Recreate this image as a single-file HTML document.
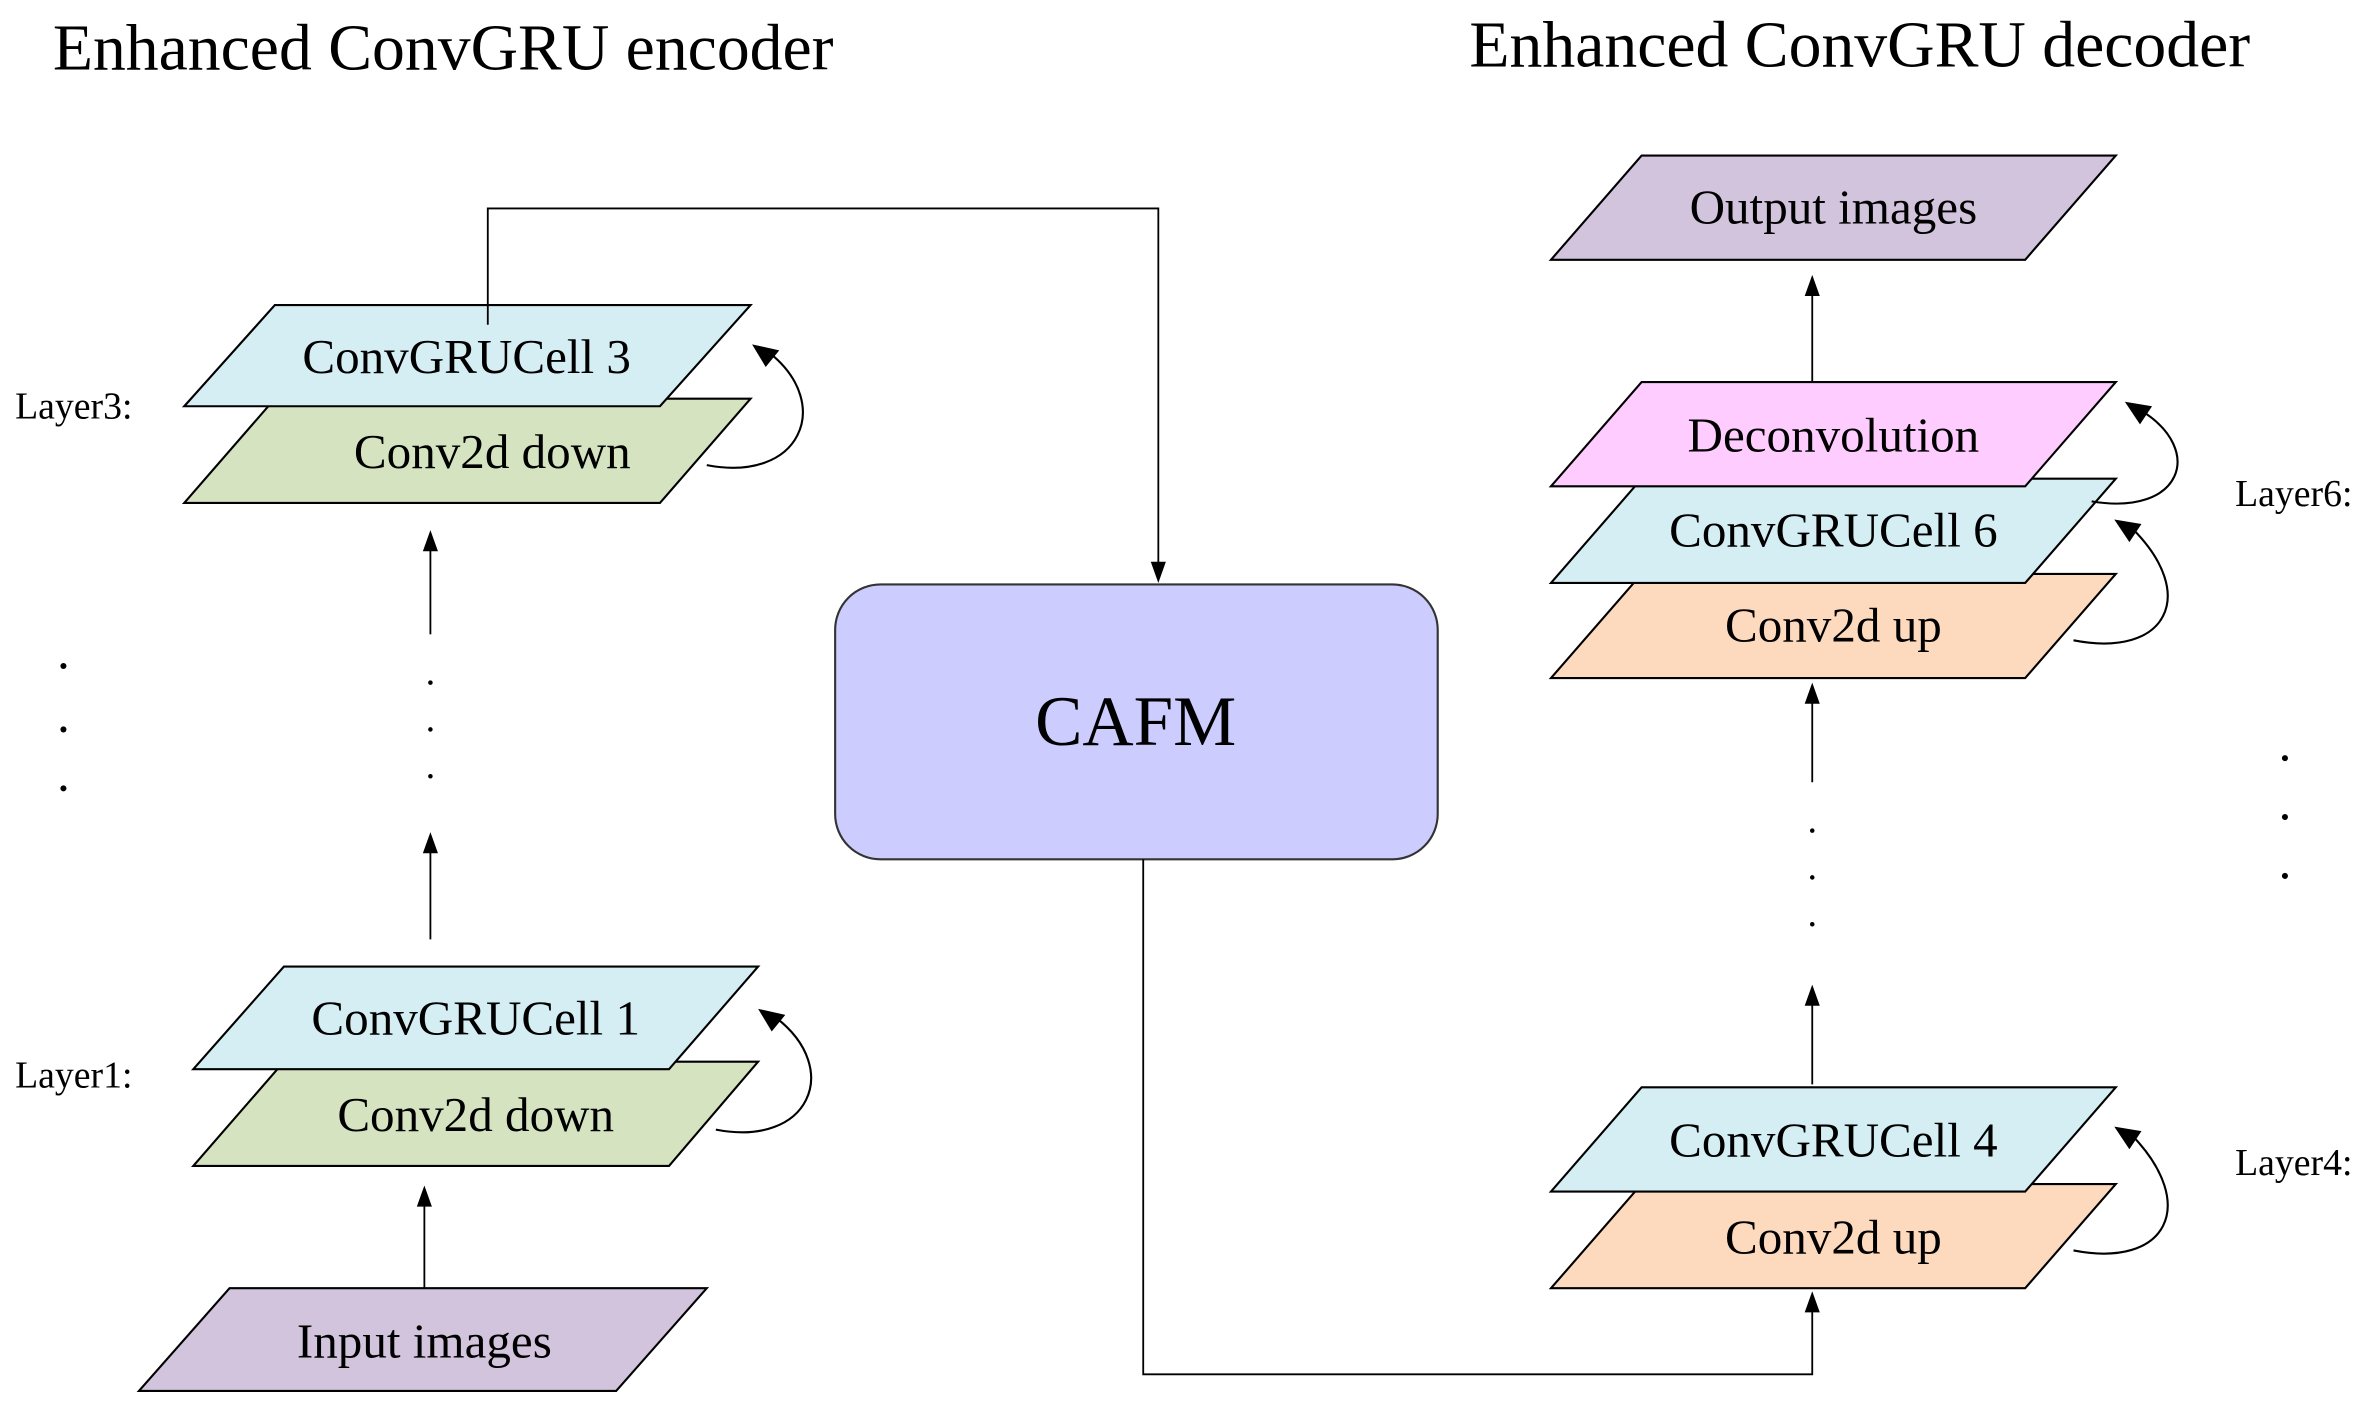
<!DOCTYPE html>
<html><head><meta charset="utf-8"><style>html,body{margin:0;padding:0;background:#fff}svg{display:block}</style></head>
<body>
<svg width="2368" height="1419" viewBox="0 0 1568 939.6" preserveAspectRatio="none" xmlns="http://www.w3.org/2000/svg" font-family="Liberation Serif, serif">
<g stroke="#000" stroke-width="1.4">
<text x="35" y="46" font-size="43.5" stroke="none">Enhanced ConvGRU encoder</text>
<text x="973" y="44" font-size="43.5" stroke="none">Enhanced ConvGRU decoder</text>
<!-- encoder layer3 -->
<polygon points="182,264 497,264 437,333 122,333" fill="#d5e3c0"/>
<polygon points="182,202 497,202 437,269 122,269" fill="#d4eef4"/>
<text x="309" y="236" font-size="32.5" text-anchor="middle" dominant-baseline="central" stroke="none">ConvGRUCell 3</text>
<text x="326" y="299" font-size="32.5" text-anchor="middle" dominant-baseline="central" stroke="none">Conv2d down</text>
<path d="M468,308 C530,320 552,268 510,234" fill="none"/>
<path d="M498,228 l18,4 l-9,11z" fill="#000" stroke="none"/>
<text x="10" y="277" font-size="25" stroke="none">Layer3:</text>
<path d="M323,215 V138 H767 V375" fill="none" stroke-width="1.2"/>
<path d="M767,386 l-5,-14 l10,0z" fill="#000" stroke="none"/>
<line x1="285" y1="420" x2="285" y2="364" stroke-width="1.2"/>
<path d="M285,351 l-5,14 l10,0z" fill="#000" stroke="none"/>
<line x1="285" y1="622" x2="285" y2="564" stroke-width="1.2"/>
<path d="M285,551 l-5,14 l10,0z" fill="#000" stroke="none"/>
<g stroke="none" fill="#000"><circle cx="285" cy="452" r="1.5"/><circle cx="285" cy="483" r="1.5"/><circle cx="285" cy="514" r="1.5"/>
<circle cx="42" cy="441" r="2"/><circle cx="42" cy="483" r="2"/><circle cx="42" cy="522" r="2"/>
<circle cx="1200" cy="550" r="1.5"/><circle cx="1200" cy="581" r="1.5"/><circle cx="1200" cy="612" r="1.5"/>
<circle cx="1513" cy="502" r="2"/><circle cx="1513" cy="541" r="2"/><circle cx="1513" cy="580" r="2"/></g>
<!-- layer1 -->
<polygon points="188,703 502,703 443,772 128,772" fill="#d5e3c0"/>
<polygon points="188,640 502,640 443,708 128,708" fill="#d4eef4"/>
<text x="315" y="674" font-size="32.5" text-anchor="middle" dominant-baseline="central" stroke="none">ConvGRUCell 1</text>
<text x="315" y="738" font-size="32.5" text-anchor="middle" dominant-baseline="central" stroke="none">Conv2d down</text>
<path d="M474,748 C536,760 558,708 514,674" fill="none"/>
<path d="M502,668 l18,4 l-9,11z" fill="#000" stroke="none"/>
<text x="10" y="720" font-size="25" stroke="none">Layer1:</text>
<line x1="281" y1="853" x2="281" y2="798" stroke-width="1.2"/>
<path d="M281,785 l-5,14 l10,0z" fill="#000" stroke="none"/>
<polygon points="152,853 468,853 408,921 92,921" fill="#d1c4dc"/>
<text x="281" y="888" font-size="32.5" text-anchor="middle" dominant-baseline="central" stroke="none">Input images</text>
<!-- CAFM -->
<rect x="553" y="387" width="399" height="182" rx="30" fill="#ccccff" stroke="#333"/>
<text x="752" y="478" font-size="47" text-anchor="middle" dominant-baseline="central" stroke="none">CAFM</text>
<path d="M757,569 V910 H1200 V868" fill="none" stroke-width="1.2"/>
<path d="M1200,855 l-5,14 l10,0z" fill="#000" stroke="none"/>
<!-- decoder -->
<polygon points="1087,103 1401,103 1341,172 1027,172" fill="#d1c4dc"/>
<text x="1214" y="137" font-size="32.5" text-anchor="middle" dominant-baseline="central" stroke="none">Output images</text>
<line x1="1200" y1="253" x2="1200" y2="195" stroke-width="1.2"/>
<path d="M1200,182 l-5,14 l10,0z" fill="#000" stroke="none"/>
<polygon points="1087,380 1401,380 1341,449 1027,449" fill="#fdd9bd"/>
<polygon points="1087,317 1401,317 1341,386 1027,386" fill="#d4eef4"/>
<polygon points="1087,253 1401,253 1341,322 1027,322" fill="#ffccff"/>
<text x="1214" y="288" font-size="32.5" text-anchor="middle" dominant-baseline="central" stroke="none">Deconvolution</text>
<text x="1214" y="351" font-size="32.5" text-anchor="middle" dominant-baseline="central" stroke="none">ConvGRUCell 6</text>
<text x="1214" y="414" font-size="32.5" text-anchor="middle" dominant-baseline="central" stroke="none">Conv2d up</text>
<path d="M1385,332 C1445,342 1460,298 1418,272" fill="none"/>
<path d="M1407,266 l18,3 l-8,12z" fill="#000" stroke="none"/>
<path d="M1373,424 C1435,436 1456,394 1412,350" fill="none"/>
<path d="M1400,344 l18,3 l-8,12z" fill="#000" stroke="none"/>
<text x="1480" y="335" font-size="25" stroke="none">Layer6:</text>
<line x1="1200" y1="518" x2="1200" y2="465" stroke-width="1.2"/>
<path d="M1200,452 l-5,14 l10,0z" fill="#000" stroke="none"/>
<line x1="1200" y1="718" x2="1200" y2="665" stroke-width="1.2"/>
<path d="M1200,652 l-5,14 l10,0z" fill="#000" stroke="none"/>
<polygon points="1087,784 1401,784 1341,853 1027,853" fill="#fdd9bd"/>
<polygon points="1087,720 1401,720 1341,789 1027,789" fill="#d4eef4"/>
<text x="1214" y="755" font-size="32.5" text-anchor="middle" dominant-baseline="central" stroke="none">ConvGRUCell 4</text>
<text x="1214" y="819" font-size="32.5" text-anchor="middle" dominant-baseline="central" stroke="none">Conv2d up</text>
<path d="M1373,828 C1435,840 1456,798 1412,752" fill="none"/>
<path d="M1400,746 l18,3 l-8,12z" fill="#000" stroke="none"/>
<text x="1480" y="778" font-size="25" stroke="none">Layer4:</text>
</g>
</svg>
</body></html>
